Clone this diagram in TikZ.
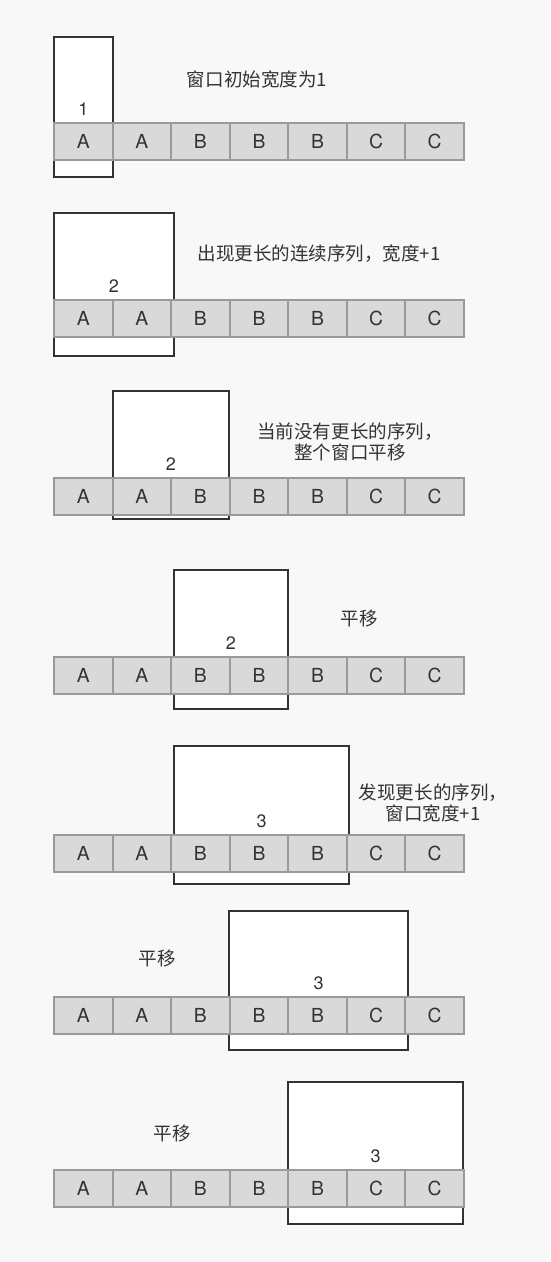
\documentclass[tikz,border=0pt]{standalone}
\usepackage{fontspec}
\setmainfont{Noto Sans CJK SC}
\newfontfamily\cellfont{TeX Gyre Heros}
\usetikzlibrary{positioning}
\definecolor{bgcol}{HTML}{F8F8F8}
\definecolor{cellfill}{HTML}{D9D9D9}
\definecolor{cellline}{HTML}{9A9A9A}
\definecolor{winline}{HTML}{333333}
\definecolor{txt}{HTML}{333333}

\begin{document}
\begin{tikzpicture}[
    x=0.75pt, y=-0.75pt,
    cell/.style={rectangle, draw=cellline, fill=cellfill, line width=1.5pt, minimum width=43.93pt, minimum height=27.75pt, inner sep=0pt, outer sep=0pt, text=txt, font=\cellfont\fontsize{14.5}{17}\selectfont},
    window/.style={rectangle, draw=winline, fill=white, line width=2pt, inner sep=0pt, outer sep=0pt},
    num/.style={inner sep=0pt, text=txt, font=\cellfont\fontsize{13.5}{16}\selectfont},
    note/.style={inner sep=0pt, text=txt, align=center, font=\fontsize{13.9}{16}\selectfont}
]

% Background
\fill[bgcol] (0,0) rectangle (550,1262);
\useasboundingbox (0,0) rectangle (550,1262);

% Rows: cell top / window left / window right / window top / window bottom / width
\foreach \r/\cy/\wl/\wr/\wt/\wb/\n in {1/123/54/113/37/177/1, 2/300/54/174/213/356/2, 3/478/113/229/391/519/2, 4/657/174/288/570/709/2, 5/835/174/349/746/884/3, 6/997/229/408/911/1050/3, 7/1170/288/463/1082/1224/3} {
    % window
    \node[window, minimum width={(\wr-\wl)*0.75pt}, minimum height={(\wb-\wt)*0.75pt}] (w\r) at ({(\wl+\wr)/2},{(\wt+\wb)/2}) {};
    % cells
    \foreach \l [count=\i] in {A,A,B,B,B,C,C}
        \node[cell] (c\r-\i) at ({54+58.57*(\i-0.5)},{\cy+18.5}) {\l};
    % window width
    \node[num] (n\r) at ({(\wl+\wr)/2},{\cy-14}) {\n};
}

% Notes
\node[note] (note1) at (257,80) {窗口初始宽度为1};
\node[note] (note2) at (319,254) {出现更长的连续序列，宽度+1};
\node[note] (note3) at (350,442) {当前没有更长的序列，\\整个窗口平移};
\node[note] (note4) at (359,618) {平移};
\node[note] (note5) at (433,803) {发现更长的序列，\\窗口宽度+1};
\node[note] (note6) at (157,958) {平移};
\node[note] (note7) at (172,1133) {平移};

\end{tikzpicture}
\end{document}
